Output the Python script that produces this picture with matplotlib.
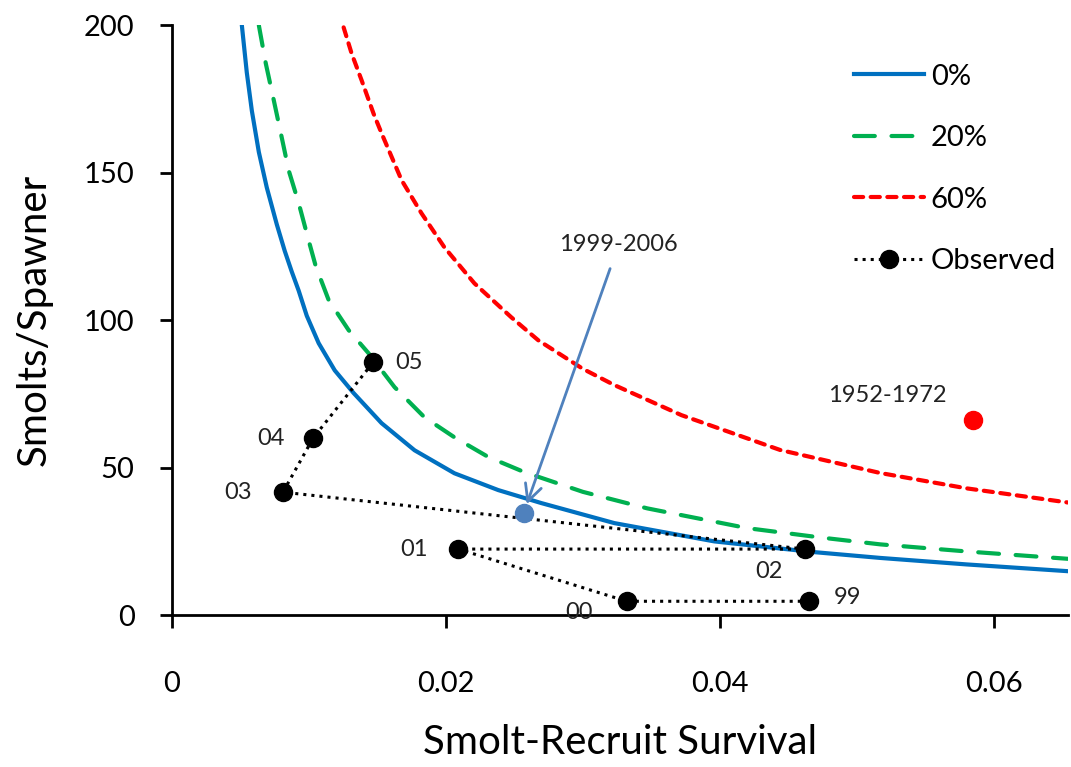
import matplotlib
matplotlib.use('Agg')
import matplotlib.pyplot as plt

plt.rcParams['font.family'] = ['Lato', 'DejaVu Sans']

# curvas (sobrevivencia, smolts/spawner)
x0 = [0.0051, 0.00546, 0.00583, 0.00634, 0.00692, 0.00765, 0.00823, 0.00874,
      0.00925, 0.00984, 0.01071, 0.01188, 0.01326, 0.0153, 0.01771, 0.02062,
      0.02382, 0.02696, 0.0323, 0.0396, 0.0468, 0.0517, 0.058, 0.0654]
y0 = [200, 184, 171, 157, 145, 132.5, 123.5, 116.5,
      110, 101.5, 92.2, 83, 75.3, 65.1, 55.9, 48.1,
      42.4, 38, 31.2, 25.0, 21.4, 19.4, 17.2, 14.9]

x20 = [0.00634, 0.00685, 0.00743, 0.00801, 0.00852, 0.00925, 0.00998, 0.01049,
       0.01144, 0.0129, 0.01435, 0.01625, 0.01843, 0.02062, 0.0231, 0.02572,
       0.0300, 0.0347, 0.042, 0.0474, 0.0517, 0.058, 0.0654]
y20 = [200, 187, 174.6, 162, 150.8, 139.7, 127, 118.4,
       106.8, 96.6, 88.8, 77.3, 67.1, 60.3, 53.6, 48.5,
       41.8, 36.2, 29.5, 26.3, 24.0, 21.6, 19.1]

x60 = [0.01253, 0.01311, 0.01384, 0.01472, 0.0153, 0.01676, 0.01821, 0.01989,
       0.02208, 0.02477, 0.02674, 0.0300, 0.0323, 0.0372, 0.0444, 0.0517,
       0.058, 0.0654]
y60 = [199.3, 190.5, 181.4, 170, 163.4, 147.5, 136.3, 124.7,
       112.5, 101, 93.2, 83.5, 78.0, 67.8, 56.0, 48.2,
       43.0, 38.2]

# observados 1999-2005
anos = ['99', '00', '01', '02', '03', '04', '05']
obs_x = [0.0465, 0.0332, 0.0209, 0.0462, 0.0081, 0.0103, 0.0147]
obs_y = [4.7, 4.7, 22.4, 22.4, 41.7, 60.0, 85.8]

media_x, media_y = 0.0257, 34.6    # 1999-2006
hist_x, hist_y = 0.0585, 66.1      # 1952-1972

fig = plt.figure(figsize=(10.71, 7.67), dpi=100)
ax = fig.add_axes([0.1606, 0.198, 0.8364, 0.769])

ax.plot(x0, y0, '-', color='#0070C0', linewidth=3, label='0%')
ax.plot(x20, y20, color='#00B050', linewidth=3, linestyle=(0, (5, 4)),
        dash_capstyle='round', label='20%')
ax.plot(x60, y60, color='#FF0000', linewidth=3, linestyle=(0, (2.2, 1.8)),
        dash_capstyle='round', label='60%')
ax.plot(obs_x, obs_y, ':', color='black', linewidth=2.2, marker='o',
        markersize=13, label='Observed')

ax.plot(media_x, media_y, 'o', color='#4F81BD', markersize=13)
ax.plot(hist_x, hist_y, 'o', color='#FF0000', markersize=13)

# rotulos dos anos
desloc = {'99': (18, 3), '00': (-44, -8), '01': (-42, 0), '02': (-36, -16),
          '03': (-42, 0), '04': (-40, 0), '05': (16, 0)}
for a, xx, yy in zip(anos, obs_x, obs_y):
    ax.annotate(a, (xx, yy), xytext=desloc[a], textcoords='offset points',
                fontsize=17, color='#222222', va='center', ha='left')

ax.annotate('1999-2006', xy=(media_x + 0.0002, media_y + 3), xytext=(0.0326, 122),
            fontsize=17, color='#222222', ha='center', va='bottom',
            arrowprops=dict(arrowstyle='->', color='#4F81BD', lw=2,
                            mutation_scale=30, shrinkA=8, shrinkB=0))
ax.text(0.0522, 71, '1952-1972', fontsize=17, color='#222222',
        ha='center', va='bottom')

ax.set_xlim(0, 0.0654)
ax.set_ylim(0, 200)
ax.set_xticks([0, 0.02, 0.04, 0.06])
ax.set_xticklabels(['0', '0.02', '0.04', '0.06'])
ax.set_yticks([0, 50, 100, 150, 200])

for s in ['top', 'right']:
    ax.spines[s].set_visible(False)
for s in ['left', 'bottom']:
    ax.spines[s].set_linewidth(2)

ax.tick_params(axis='x', direction='out', length=9, width=2, labelsize=21, pad=31)
ax.tick_params(axis='y', direction='out', length=9, width=2, labelsize=21, pad=18)

ax.set_xlabel('Smolt-Recruit Survival', fontsize=29, labelpad=20)
ax.set_ylabel('Smolts/Spawner', fontsize=29, labelpad=22)

leg = ax.legend(loc='upper right', bbox_to_anchor=(1.0, 0.955), fontsize=21,
                frameon=False, handlelength=2.4, handletextpad=0.25,
                labelspacing=1.22, borderaxespad=0.0)

fig.savefig('out.png', dpi=100)
